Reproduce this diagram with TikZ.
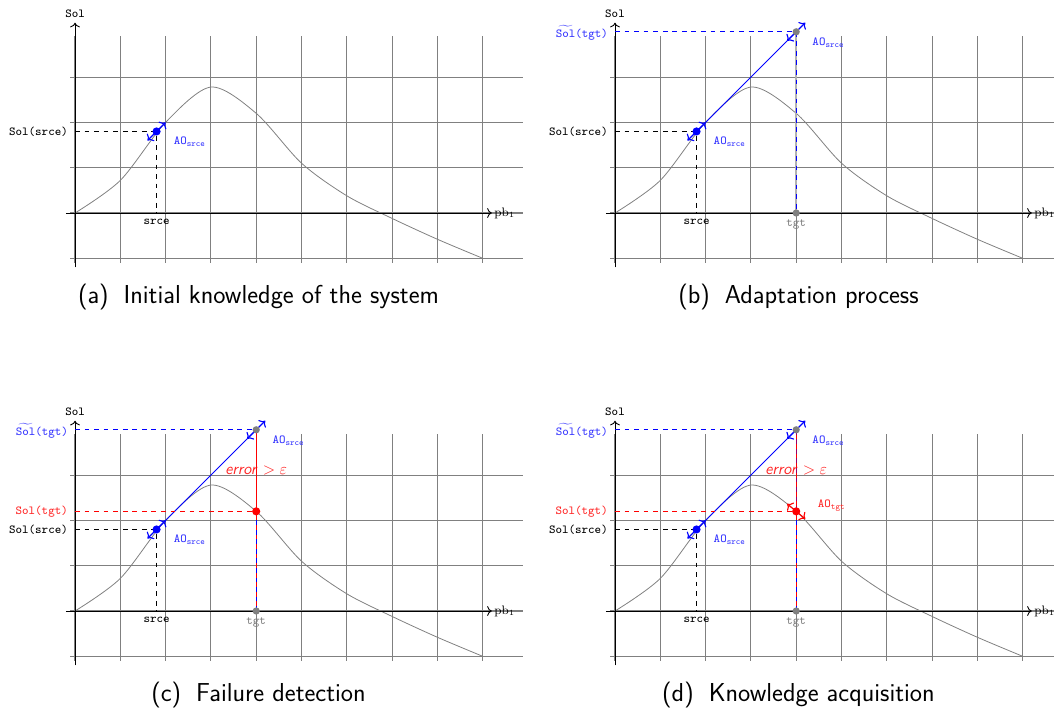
\documentclass[tikz,border=0pt]{standalone}
\usepackage{amsmath}
\usepackage{fontspec}
\usetikzlibrary{arrows.meta}
\tikzset{
  gridline/.style={gray, line width=0.7pt},
  axisline/.style={black, line width=0.6pt, ->},
  curveline/.style={gray, line width=0.5pt},
  lbl/.style={font=\fontsize{7.7}{9}\selectfont\ttfamily, inner sep=1.5pt},
  rmlbl/.style={font=\fontsize{7.7}{9}\selectfont\rmfamily, inner sep=1.5pt},
  errlbl/.style={font=\fontsize{10}{12}\selectfont\sffamily, inner sep=1pt, red!85},
  caption/.style={font=\fontsize{16.3}{19}\selectfont\sffamily, inner sep=0pt},
  projline/.style={dashed, line width=0.6pt},
  aoarrow/.style={<->, line width=0.7pt},
  dotmark/.style={circle, inner sep=0pt, minimum size=0.18cm},
  gdot/.style={circle, inner sep=0pt, minimum size=0.16cm, fill=gray},
  bluetext/.style={text=blue!80},
  redtext/.style={text=red!85},
}
\newcommand\panelbase[2]{%
  \draw[gridline] (-0.1,-1.1) grid (9.9,3.9);
  \draw[curveline] plot[smooth] coordinates {(0,0) (1,0.72) (2,2) (3,2.78) (4,2.2) (5,1.1) (6,0.38) (7,-0.12) (8,-0.58) (9,-1)};
  \coordinate (#1-xb) at (-0.2,0); \coordinate (#1-xe) at (9.2,0);
  \coordinate (#1-yb) at (0,-1.2); \coordinate (#1-ye) at (0,4.2);
  \draw[axisline] (#1-xb) -- (#1-xe);
  \draw[axisline] (#1-yb) -- (#1-ye);
  \node[lbl, anchor=south, inner sep=1pt] (#1-sol) at (0,4.27) {Sol};
  \node[rmlbl, anchor=west] (#1-pb) at (#1-xe) {pb$_1$};
  \coordinate (#1-ys) at (0,1.8); \coordinate (#1-xs) at (1.8,0); \coordinate (#1-sc) at (1.8,1.8);
  \draw[projline] (#1-ys) -- (#1-sc) -- (#1-xs);
  \node[lbl, anchor=east] (#1-solsrce) at (-0.1,1.8) {Sol(srce)};
  \node[lbl, anchor=north] (#1-srce) at (1.8,-0.08) {srce};
  \coordinate (#1-a1) at (1.6,1.6); \coordinate (#1-a2) at (2,2);
  \draw[aoarrow, blue] (#1-a1) -- (#1-a2);
  \node[lbl, bluetext, anchor=west] (#1-aos) at (2.12,1.57) {AO$_{\texttt{srce}}$};
  \node[caption] (#1-cap) at (4.05,-1.854) {#2};
}
\newcommand\extrapol[1]{%
  \coordinate (#1-tc) at (4,4); \coordinate (#1-yt) at (0,4); \coordinate (#1-xt) at (4,0);
  \draw[blue, line width=0.5pt] (#1-sc) -- (#1-tc);
  \draw[projline, blue] (#1-yt) -- (#1-tc);
  \coordinate (#1-b1) at (3.8,3.8); \coordinate (#1-b2) at (4.2,4.2);
  \draw[aoarrow, blue] (#1-b1) -- (#1-b2);
  \node[lbl, bluetext, anchor=east, inner sep=0.5pt] (#1-soltgt) at (-0.13,3.98) {$\widetilde{\texttt{Sol}}$(tgt)};
  \node[lbl, gray, anchor=north] (#1-tgt) at (4,-0.08) {tgt};
  \node[lbl, bluetext, anchor=west] (#1-aot) at (4.3,3.76) {AO$_{\texttt{srce}}$};
}
\newcommand\errpart[1]{%
  \coordinate (#1-rc) at (4,2.2); \coordinate (#1-yr) at (0,2.2);
  \draw[projline, red] (#1-yr) -- (#1-rc);
  \node[lbl, redtext, anchor=east] (#1-solr) at (-0.1,2.2) {Sol(tgt)};
  \node[errlbl] (#1-err) at (4,3.1) {\textit{error} $>\varepsilon$};
}
\begin{document}
\begin{tikzpicture}
\useasboundingbox (-1.656,-10.971) rectangle (21.611,4.702);
% (a)
\begin{scope}
  \panelbase{a}{(a)\hskip0.33cm Initial knowledge of the system}
  \node[dotmark, fill=blue] (a-s) at (a-sc) {};
\end{scope}
% (b)
\begin{scope}[shift={(11.92,0)}]
  \panelbase{b}{(b)\hskip0.33cm Adaptation process}
  \extrapol{b}
  \draw[gray!60, line width=1.2pt] (b-xt) -- (b-tc);
  \draw[projline, blue] (b-tc) -- (b-xt);
  \node[dotmark, fill=blue] (b-s) at (b-sc) {};
  \node[gdot] (b-t) at (b-tc) {};
  \node[gdot] (b-x) at (b-xt) {};
\end{scope}
% (c)
\begin{scope}[shift={(0,-8.786)}]
  \panelbase{c}{(c)\hskip0.33cm Failure detection}
  \extrapol{c}
  \errpart{c}
  \draw[red, line width=0.7pt] (c-xt) -- (c-tc);
  \draw[projline, blue] (c-xt) -- (c-rc);
  \node[dotmark, fill=blue] (c-s) at (c-sc) {};
  \node[gdot] (c-t) at (c-tc) {};
  \node[gdot] (c-x) at (c-xt) {};
  \node[dotmark, fill=red] (c-r) at (c-rc) {};
\end{scope}
% (d)
\begin{scope}[shift={(11.92,-8.786)}]
  \panelbase{d}{(d)\hskip0.33cm Knowledge acquisition}
  \extrapol{d}
  \errpart{d}
  \draw[red, line width=0.7pt] (d-xt) -- (d-tc);
  \draw[projline, blue] (d-xt) -- (d-rc);
  \draw[projline, blue, opacity=0.4] (d-tc) -- (d-rc);
  \coordinate (d-c1) at (3.8,2.366); \coordinate (d-c2) at (4.2,2.034);
  \draw[aoarrow, red] (d-c1) -- (d-c2);
  \node[lbl, redtext, anchor=west] (d-aotgt) at (4.42,2.32) {AO$_{\texttt{tgt}}$};
  \node[dotmark, fill=blue] (d-s) at (d-sc) {};
  \node[gdot] (d-t) at (d-tc) {};
  \node[gdot] (d-x) at (d-xt) {};
  \node[dotmark, fill=red] (d-r) at (d-rc) {};
\end{scope}
\end{tikzpicture}
\end{document}
